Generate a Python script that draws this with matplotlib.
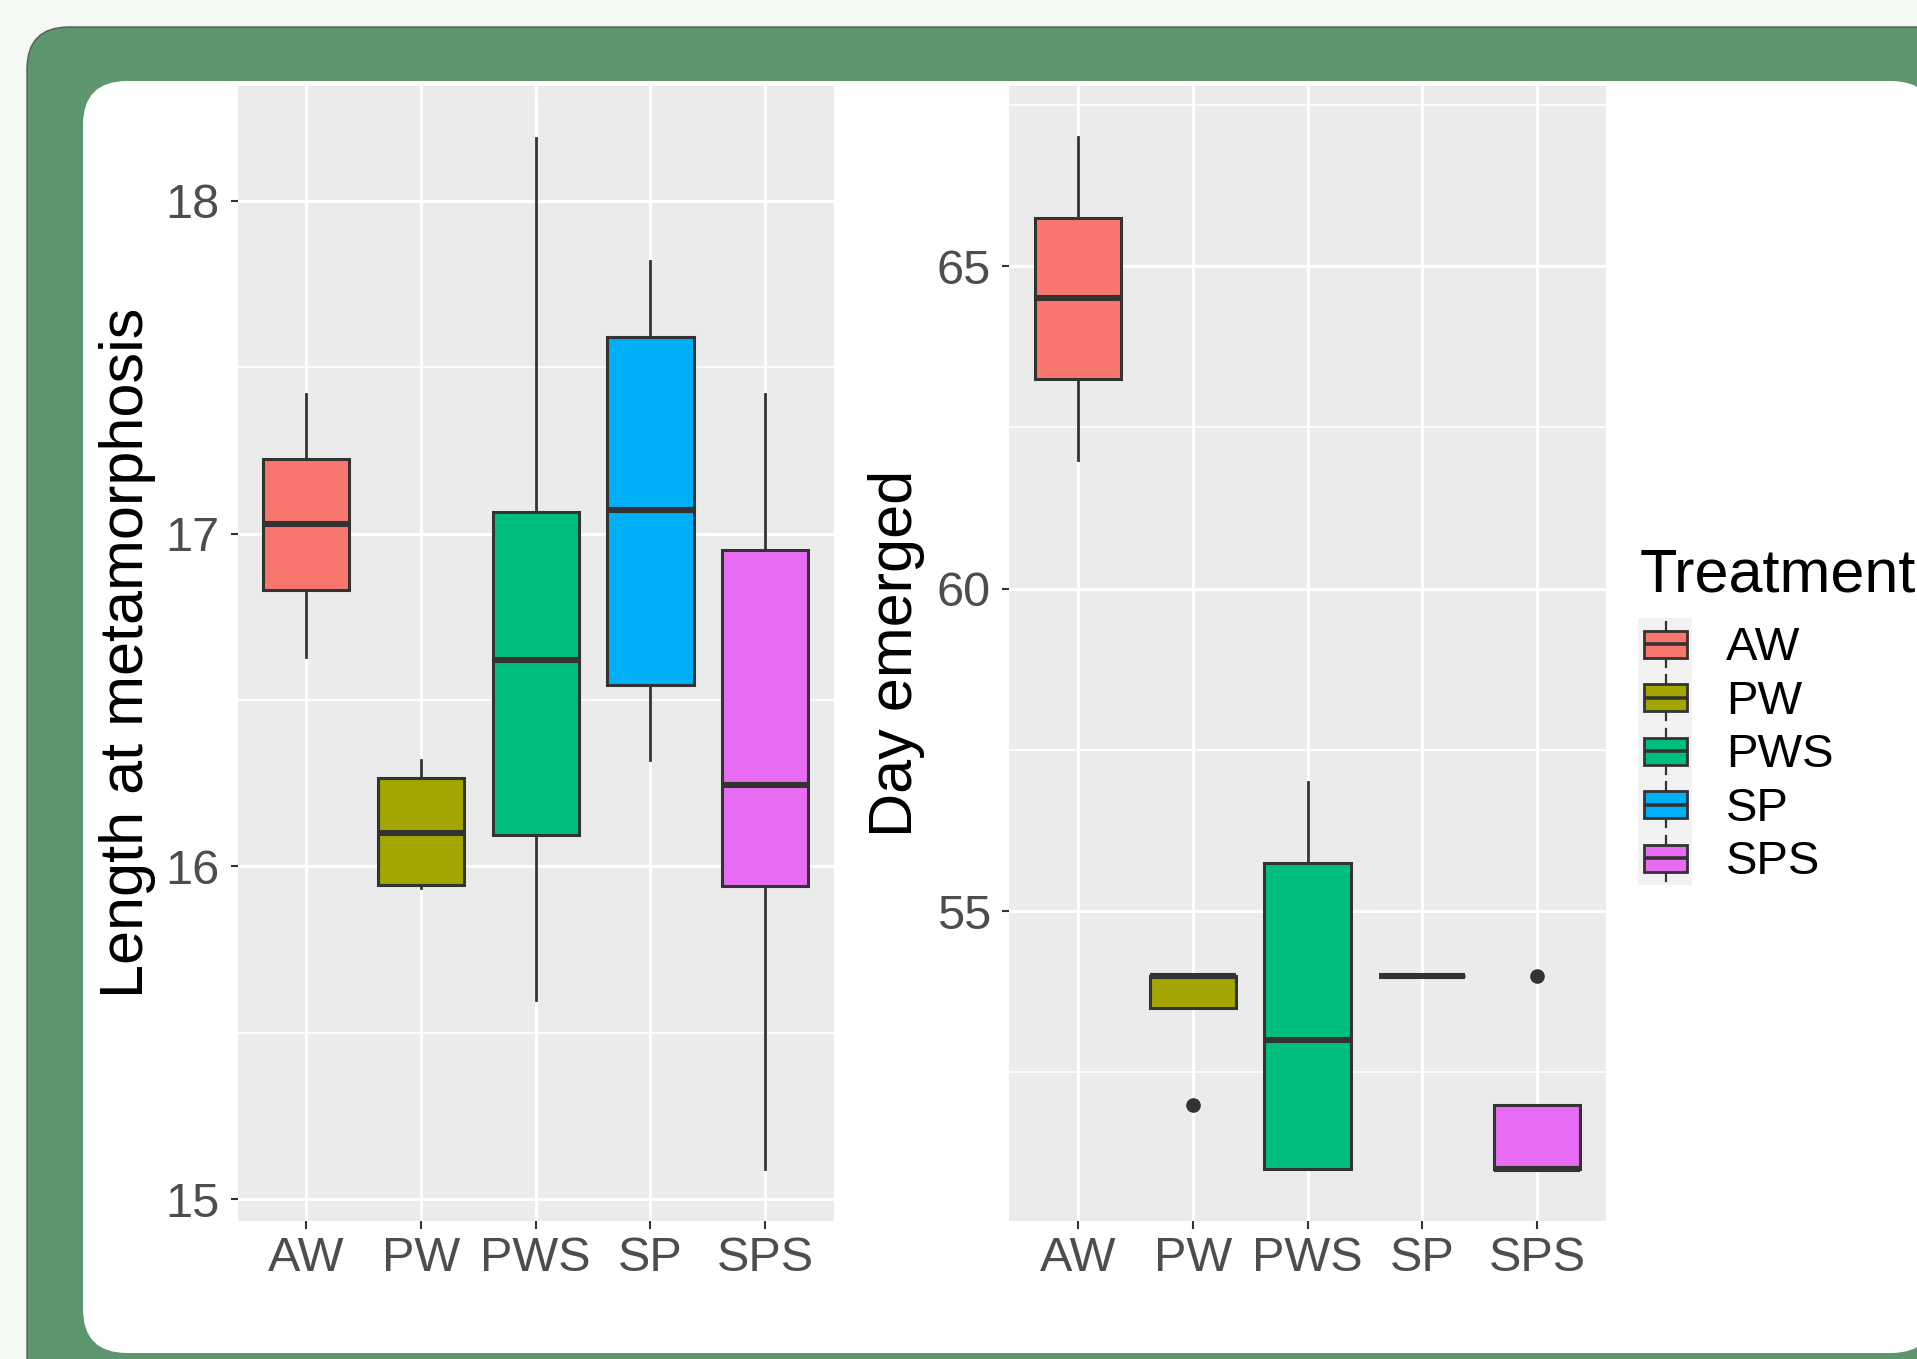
import matplotlib
matplotlib.use("Agg")
import matplotlib.pyplot as plt
from matplotlib.patches import FancyBboxPatch, Rectangle
from matplotlib.transforms import IdentityTransform

plt.rcParams['font.family'] = ['Liberation Sans', 'DejaVu Sans']

# treatment groups and ggplot hue colours
cats = ["AW", "PW", "PWS", "SP", "SPS"]
colors = ["#F8766D", "#A3A500", "#00BF7D", "#00B0F6", "#E76BF3"]

# Length at metamorphosis (box stats)
len_lo = [16.63, 15.935, 15.60, 16.32, 15.09]
len_q1 = [16.83, 15.945, 16.095, 16.545, 15.94]
len_med = [17.03, 16.10, 16.62, 17.07, 16.245]
len_q3 = [17.225, 16.265, 17.065, 17.59, 16.95]
len_hi = [17.42, 16.32, 18.19, 17.82, 17.42]
len_out = [[], [], [], [], []]

# Day emerged
day_lo = [62.0, 53.5, 51.0, 54.0, 51.0]
day_q1 = [63.25, 53.5, 51.0, 54.0, 51.0]
day_med = [64.5, 54.0, 53.0, 54.0, 51.0]
day_q3 = [65.75, 54.0, 55.75, 54.0, 52.0]
day_hi = [67.0, 54.0, 57.0, 54.0, 52.0]
day_out = [[], [52.0], [], [], [54.0]]

W, H = 1917, 1359
fig = plt.figure(figsize=(W / 100, H / 100), dpi=100, facecolor="#F4F9F3")

# green frame and white card behind the plots (pixel coords)
fig.add_artist(FancyBboxPatch((27, -60), 2000, H - 27 + 60,
                              boxstyle="round,pad=0,rounding_size=42",
                              facecolor="#5C956E", edgecolor="#5A5A5A", lw=1.0,
                              transform=IdentityTransform(), zorder=-3))
fig.add_artist(FancyBboxPatch((83, 6), 1935 - 83, 1353 - 81,
                              boxstyle="round,pad=0,rounding_size=44",
                              facecolor="white", edgecolor="none",
                              transform=IdentityTransform(), zorder=-2))


def stats(lo, q1, med, q3, hi, out):
    return [dict(label=c, whislo=a, q1=b, med=m, q3=d, whishi=e, fliers=f)
            for c, a, b, m, d, e, f in zip(cats, lo, q1, med, q3, hi, out)]


def draw_panel(rect, st, ylim, major, minor, ylabel, label_x):
    ax = fig.add_axes(rect)
    ax.set_facecolor("#EBEBEB")
    bp = ax.bxp(st, positions=range(1, 6), widths=0.75, patch_artist=True,
                showcaps=False, manage_ticks=False,
                boxprops=dict(edgecolor="#333333", linewidth=2.2),
                whiskerprops=dict(color="#333333", linewidth=2.0),
                medianprops=dict(color="#333333", linewidth=4.4,
                                 solid_capstyle="butt"),
                flierprops=dict(marker="o", markerfacecolor="#333333",
                                markeredgecolor="#333333", markersize=9.5))
    for box, c in zip(bp["boxes"], colors):
        box.set_facecolor(c)
    ax.set_xlim(0.4, 5.6)
    ax.set_ylim(*ylim)
    ax.set_xticks(range(1, 6))
    ax.set_xticklabels(cats)
    ax.set_yticks(major)
    ax.set_yticklabels([str(v) for v in major])
    ax.set_yticks(minor, minor=True)
    ax.set_axisbelow(True)
    ax.grid(which="major", color="white", lw=2.3)
    ax.grid(which="minor", axis="y", color="white", lw=1.2)
    for s in ax.spines.values():
        s.set_visible(False)
    ax.tick_params(which="major", length=5.4, width=1.5, color="#333333",
                   labelcolor="#4D4D4D", labelsize=35)
    ax.tick_params(axis="x", pad=6)
    ax.tick_params(axis="y", pad=7.5)
    ax.tick_params(which="minor", length=0)
    ax.set_ylabel(ylabel, fontsize=44, color="black", va="baseline")
    ax.yaxis.set_label_coords(label_x, 0.5)
    return ax


top_px, bot_px = 85.7, 1220.6
bottom = 1 - bot_px / H
height = (bot_px - top_px) / H
draw_panel([237.6 / W, bottom, 596.4 / W, height],
           stats(len_lo, len_q1, len_med, len_q3, len_hi, len_out),
           (14.936, 18.346), [15, 16, 17, 18], [15.5, 16.5, 17.5],
           "Length at metamorphosis", -0.158)
draw_panel([1009 / W, bottom, 597 / W, height],
           stats(day_lo, day_q1, day_med, day_q3, day_hi, day_out),
           (50.2, 67.8), [55, 60, 65], [52.5, 57.5, 62.5, 67.5],
           "Day emerged", -0.163)

# legend drawn in pixel coordinates (top-down)
lg = fig.add_axes([0, 0, 1, 1])
lg.set_xlim(0, W)
lg.set_ylim(H, 0)
lg.axis("off")
lg.text(1640, 591.7, "Treatment", fontsize=44, va="baseline", ha="left")
step = 53.5
y0 = 644.3
lg.add_patch(Rectangle((1638, y0 - step / 2), 54, step * len(cats),
                       facecolor="#F2F2F2", edgecolor="none", zorder=1))
for i, (c, col) in enumerate(zip(cats, colors)):
    yc = y0 + i * step
    lg.plot([1665.5, 1665.5], [yc - 22.5, yc + 22.5], color="#333333",
            lw=1.6, zorder=2)
    lg.add_patch(Rectangle((1644, yc - 13.5), 43, 27, facecolor=col,
                           edgecolor="#333333", lw=2.0, zorder=3))
    lg.plot([1644, 1687], [yc, yc], color="#333333", lw=2.6,
            solid_capstyle="butt", zorder=4)
    lg.text(1726, yc + 16, c, fontsize=34, va="baseline", ha="left")

fig.savefig("out.png", dpi=100, facecolor=fig.get_facecolor())
